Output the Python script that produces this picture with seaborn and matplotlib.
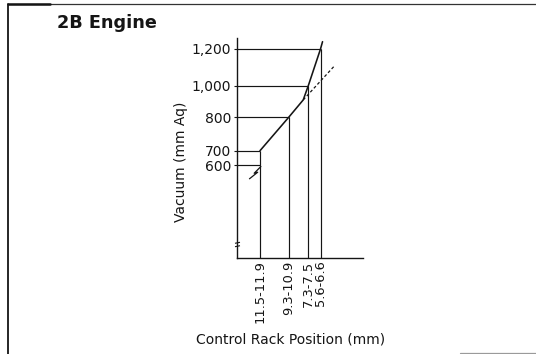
import numpy as np
import pandas as pd
import matplotlib
matplotlib.use("Agg")
import matplotlib.pyplot as plt
import seaborn as sns
from matplotlib.path import Path
from matplotlib.lines import Line2D

# ---- chart text -------------------------------------------------------------
title = "2B Engine"
x_label = "Control Rack Position (mm)"
y_label = "Vacuum (mm Aq)"

# ---- data -------------------------------------------------------------------
vacuum_ticks = [600, 700, 800, 1000, 1200]
vacuum_tick_text = ["600", "700", "800", "1,000", "1,200"]

# rack position range reached at each vacuum level
spec_vacuum = [700, 800, 1000, 1200]
spec_rack = ["11.5-11.9", "9.3-10.9", "7.3-7.5", "5.6-6.6"]

low_vacuum = 600                      # lower reading on the full-load rack line
knee_rack, knee_vacuum = 8.1, 910     # change of slope of the governor curve
top_rack, top_vacuum = 6.0, 1240      # end of the drawn curve
dash_rack, dash_vacuum = 5.4, 1110    # end of the extrapolated (dashed) slope
axis_break_vacuum = 92                # break symbol on the vacuum axis


def range_mid(text):
    lo, hi = (float(v) for v in text.split("-"))
    return (lo + hi) / 2


rack_mid = [range_mid(r) for r in spec_rack]

# ---- schematic (non-linear) axis scales --------------------------------------
# rack position decreases to the right
X_LIM = (13.0, 4.0)
x_anchor_mm = [4.0, 6.1, 7.4, 10.1, 11.7, 13.0]
x_anchor_pos = [126.0, 83.2, 71.0, 51.4, 22.7, 0.0]
Y_LIM = (0, 1260)
y_anchor_val = [0, 600, 700, 800, 1000, 1200, 1260]
y_anchor_pos = [0.0, 93.0, 107.6, 141.0, 172.6, 209.3, 220.3]


def fx(v):
    return np.interp(v, x_anchor_mm, x_anchor_pos)


def fx_inv(p):
    return np.interp(p, x_anchor_pos[::-1], x_anchor_mm[::-1])


def fy(v):
    return np.interp(v, y_anchor_val, y_anchor_pos)


def fy_inv(p):
    return np.interp(p, y_anchor_pos, y_anchor_val)


# ---- figure -----------------------------------------------------------------
sns.set_theme(style="white")
plt.rcParams["font.family"] = ["DejaVu Sans"]
INK = "#151515"

W, H = 536, 354
fig = plt.figure(figsize=(W / 100, H / 100), dpi=100)
ax_left, ax_bottom_px, ax_w, ax_h = 237.3, 258.3, 126.0, 220.3
ax = fig.add_axes([ax_left / W, (H - ax_bottom_px) / H, ax_w / W, ax_h / H])

curve = pd.DataFrame({
    "rack": [rack_mid[0], rack_mid[1], knee_rack, rack_mid[2], rack_mid[3], top_rack],
    "vacuum": [spec_vacuum[0], spec_vacuum[1], knee_vacuum, spec_vacuum[2],
               spec_vacuum[3], top_vacuum],
})
sns.lineplot(data=curve, x="rack", y="vacuum", sort=False, estimator=None,
             color=INK, lw=1.15, ax=ax)

guide_kw = dict(color=INK, lw=0.85, solid_capstyle="butt")
# horizontal guides from the vacuum axis to the curve
for r, v in zip([rack_mid[0]] + rack_mid, [low_vacuum] + spec_vacuum):
    ax.plot([X_LIM[0], r], [v, v], **guide_kw)
# drop lines to the rack-position axis
for r, v in zip(rack_mid, spec_vacuum):
    ax.plot([r, r], [0, v], **guide_kw)

# dashed continuation of the lower slope
ax.plot([knee_rack, dash_rack], [knee_vacuum, dash_vacuum], color=INK, lw=0.9,
        linestyle=(0, (2.4, 1.8)))

# break symbols
zig = Path([(0.7, -0.7), (-6.3, -7.7), (-2.8, -6.7), (-11.3, -13.5)],
           [Path.MOVETO, Path.LINETO, Path.LINETO, Path.LINETO])
ax.plot([rack_mid[0]], [low_vacuum], marker=zig, markersize=19.5,
        markerfacecolor="none", markeredgecolor=INK, markeredgewidth=0.9,
        linestyle="none", clip_on=False)
brk = Path([(-2.5, 1.2), (2.5, 2.2), (-2.5, -2.2), (2.5, -1.2)],
           [Path.MOVETO, Path.LINETO, Path.MOVETO, Path.LINETO])
ax.plot([X_LIM[0]], [axis_break_vacuum], marker=brk, markersize=3.6,
        markerfacecolor="none", markeredgecolor=INK, markeredgewidth=0.8,
        linestyle="none", clip_on=False)

# scales, limits, ticks
ax.set_xscale("function", functions=(fx, fx_inv))
ax.set_yscale("function", functions=(fy, fy_inv))
ax.set_xlim(min(X_LIM), max(X_LIM))
ax.set_ylim(*Y_LIM)
ax.set_yticks(vacuum_ticks, vacuum_tick_text)
ax.set_xticks(rack_mid, spec_rack, rotation=90)
ax.minorticks_off()
ax.tick_params(axis="y", length=2, width=0.8, pad=2.5, labelsize=10,
               colors=INK, left=True)
ax.tick_params(axis="x", length=0, pad=1.5, labelsize=9.4, colors=INK)
ax.set_xlabel("")
ax.set_ylabel("")
ax.set_facecolor("none")
sns.despine(ax=ax)
for side in ("left", "bottom"):
    ax.spines[side].set_color(INK)
    ax.spines[side].set_linewidth(1.0)

# labels and title
fig.text(291 / W, 1 - 343.3 / H, x_label, ha="center", va="baseline",
         fontsize=10, color=INK)
fig.text(185 / W, 1 - 161.4 / H, y_label, ha="center", va="baseline",
         rotation=90, rotation_mode="anchor", fontsize=10, color=INK)
fig.text(57 / W, 1 - 28.3 / H, title, ha="left", va="baseline",
         fontsize=12.7, fontweight="bold", color=INK)

# page frame
ft = fig.transFigure
fig.add_artist(Line2D([8 / W, 8 / W], [0, 1 - 3.5 / H], transform=ft,
                      color=INK, lw=1.3))
fig.add_artist(Line2D([8 / W, 1], [1 - 3.6 / H] * 2, transform=ft,
                      color="#333333", lw=0.9))
fig.add_artist(Line2D([8 / W, 50 / W], [1 - 3.6 / H] * 2, transform=ft,
                      color=INK, lw=1.8))
fig.add_artist(Line2D([460 / W, 1], [1 - 352.6 / H] * 2, transform=ft,
                      color="#9a9a9a", lw=0.9))

fig.savefig("out.png", dpi=100, facecolor="white")
